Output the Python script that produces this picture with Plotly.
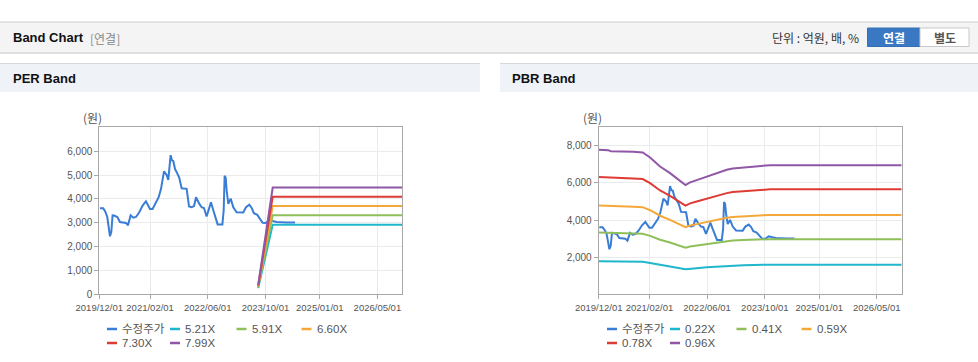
import plotly.graph_objects as go

W, H = 978, 362

# ---------------- data ----------------
price_dates = ["2019-12-06","2020-01-03","2020-01-20","2020-02-06","2020-02-14","2020-02-29","2020-03-11",
    "2020-03-22","2020-04-03","2020-05-01","2020-05-23","2020-06-20","2020-07-13","2020-07-30","2020-08-21",
    "2020-09-13","2020-10-05","2020-11-02","2020-11-30","2020-12-28","2021-01-31","2021-02-22","2021-03-23",
    "2021-04-14","2021-05-04","2021-05-29","2021-06-20","2021-07-04","2021-07-24","2021-08-04","2021-08-16",
    "2021-08-30","2021-09-18","2021-10-05","2021-10-25","2021-12-06","2021-12-26","2022-01-17","2022-02-06",
    "2022-02-23","2022-03-23","2022-04-11","2022-05-01","2022-05-23","2022-06-12","2022-06-29","2022-07-19",
    "2022-08-07","2022-08-24","2022-10-03","2022-10-14","2022-10-22","2022-10-31","2022-11-08","2022-11-22",
    "2022-12-12","2023-01-03","2023-01-31","2023-03-28","2023-04-20","2023-05-18","2023-06-07","2023-06-26",
    "2023-07-24","2023-08-16","2023-09-07","2023-10-05","2023-11-03","2023-12-01","2024-01-03","2024-03-28",
    "2024-06-06"]
price_values = [3610,3610,3470,3240,2960,2430,2610,3310,3300,3240,3030,3000,2990,2890,3310,3210,3240,3440,
    3720,3900,3580,3580,3860,4070,4420,5150,5010,4790,5830,5620,5580,5250,5070,4880,4440,4420,3680,3650,
    3700,4070,3790,3650,3620,3260,3580,3860,3510,3170,2930,2930,3510,4970,4880,4350,3790,4010,3650,3440,
    3430,3650,3760,3620,3400,3330,3170,3000,2990,3120,3070,3030,3010,3010]

per_band_dates = ["2023-08-01", "2023-12-01", "2026-11-27"]
per_names = ["5.21X", "5.91X", "6.60X", "7.30X", "7.99X"]
per_bands = [
    [260, 2918, 2918],
    [296, 3310, 3310],
    [330, 3696, 3696],
    [365, 4088, 4088],
    [400, 4474, 4474],
]

pbr_band_dates = ["2019-12-01","2020-02-20","2020-03-11","2020-08-21","2020-09-18","2020-12-06","2021-02-06",
    "2021-05-01","2021-07-24","2021-12-01","2022-01-09","2022-03-06","2022-05-29","2022-08-21","2022-11-14",
    "2023-01-03","2023-04-03","2023-06-26","2023-09-19","2023-11-14","2026-11-27"]
pbr_names = ["0.22X", "0.41X", "0.59X", "0.78X", "0.96X"]
pbr_bands = [
    [1784,1780,1767,1764,1759,1751,1690,1579,1497,1349,1382,1410,1456,1497,1538,1554,1567,1579,1587,1595,1595],
    [3325,3317,3294,3287,3279,3264,3149,2942,2789,2514,2575,2629,2713,2789,2866,2897,2920,2943,2958,2973,2973],
    [4784,4774,4740,4729,4718,4696,4531,4234,4014,3617,3706,3782,3904,4014,4124,4168,4201,4234,4256,4278,4278],
    [6325,6311,6267,6252,6238,6209,5990,5597,5306,4782,4899,5001,5161,5306,5452,5511,5554,5598,5627,5656,5656],
    [7785,7767,7713,7695,7677,7642,7373,6889,6531,5886,6030,6155,6352,6531,6710,6782,6836,6890,6925,6961,6961],
]

x_tick_vals = ["2019-12-01","2021-02-01","2022-06-01","2023-10-01","2025-01-01","2026-05-01"]
x_tick_text = ["2019/12/01","2021/02/01","2022/06/01","2023/10/01","2025/01/01","2026/05/01"]
x_range = ["2019-12-01", "2026-11-27"]
per_y_ticks = [0, 1000, 2000, 3000, 4000, 5000, 6000]
pbr_y_ticks = [2000, 4000, 6000, 8000]

price_name = "수정주가"

# ---------------- styles / layout ----------------
price_color = "#3a7dd6"
band_colors = ["#1fb7cc", "#8fbf59", "#f5a83a", "#de3b35", "#8f57a6"]

FONT = "Liberation Sans, Noto Sans CJK KR, sans-serif"
KFONT = "Noto Sans CJK KR, Liberation Sans, sans-serif"

def px(x):
    return x / W

def py(y):
    return 1 - y / H

fig = go.Figure()

fig.add_trace(go.Scatter(x=price_dates, y=price_values, name=price_name, mode="lines",
                         line=dict(color=price_color, width=2), xaxis="x", yaxis="y", showlegend=False))
for i, (n, v) in enumerate(zip(per_names, per_bands)):
    fig.add_trace(go.Scatter(x=per_band_dates, y=v, name=n, mode="lines",
                             line=dict(color=band_colors[i], width=2), xaxis="x", yaxis="y", showlegend=False))

fig.add_trace(go.Scatter(x=price_dates, y=price_values, name=price_name, mode="lines",
                         line=dict(color=price_color, width=2), xaxis="x2", yaxis="y2", showlegend=False))
for i, (n, v) in enumerate(zip(pbr_names, pbr_bands)):
    fig.add_trace(go.Scatter(x=pbr_band_dates, y=v, name=n, mode="lines",
                             line=dict(color=band_colors[i], width=2), xaxis="x2", yaxis="y2", showlegend=False))

axis_common = dict(showline=True, linecolor="#a8a8a8", linewidth=1, mirror=True, automargin=False,
                   showgrid=True, gridcolor="#ebebeb", gridwidth=1, zeroline=False,
                   ticks="outside", ticklen=4, tickcolor="#a8a8a8", tickangle=0)
xfont = dict(family=FONT, size=9.5, color="#555555")
yfont = dict(family=FONT, size=10, color="#555555")

xdom_per = [px(99.3), px(402.3)]
xdom_pbr = [px(598.7), px(901.7)]
ydom = [py(294.3), py(127.3)]

fig.update_layout(
    template="none",
    width=W, height=H, margin=dict(l=0, r=0, t=0, b=0, autoexpand=False),
    paper_bgcolor="white", plot_bgcolor="white", showlegend=False,
    xaxis=dict(domain=xdom_per, type="date", range=x_range, tickvals=x_tick_vals, ticktext=x_tick_text,
               anchor="y", tickfont=xfont, **axis_common),
    yaxis=dict(domain=ydom, range=[0, 7000], tickvals=per_y_ticks, tickformat=",d", anchor="x",
               tickfont=yfont, **axis_common),
    xaxis2=dict(domain=xdom_pbr, type="date", range=x_range, tickvals=x_tick_vals, ticktext=x_tick_text,
                anchor="y2", tickfont=xfont, **axis_common),
    yaxis2=dict(domain=ydom, range=[0, 9000], tickvals=pbr_y_ticks, tickformat=",d", anchor="x2",
                tickfont=yfont, **axis_common),
)

shapes = []
ann = []

def text(x, y, t, size=12, color="#333", bold=False, xanchor="left", family=FONT):
    ann.append(dict(xref="paper", yref="paper", x=px(x), y=py(y), text=("<b>%s</b>" % t) if bold else t,
                    showarrow=False, xanchor=xanchor, yanchor="middle",
                    font=dict(family=family, size=size, color=color)))

# top header bar
shapes.append(dict(type="rect", xref="paper", yref="paper", x0=0, x1=1, y0=py(53), y1=py(22),
                   fillcolor="#f4f4f4", line=dict(width=0), layer="below"))
shapes.append(dict(type="line", xref="paper", yref="paper", x0=0, x1=1, y0=py(22), y1=py(22),
                   line=dict(color="#cccccc", width=1)))
shapes.append(dict(type="line", xref="paper", yref="paper", x0=0, x1=1, y0=py(53), y1=py(53),
                   line=dict(color="#d6d6d6", width=1.5)))
# panel headers
for (a, b) in [(0, 480), (500, 978)]:
    shapes.append(dict(type="rect", xref="paper", yref="paper", x0=px(a), x1=px(b), y0=py(92), y1=py(63),
                       fillcolor="#eff2f7", line=dict(width=0), layer="below"))
    shapes.append(dict(type="line", xref="paper", yref="paper", x0=px(a), x1=px(b), y0=py(63.5), y1=py(63.5),
                       line=dict(color="#d5d8dd", width=1)))
# buttons
shapes.append(dict(type="rect", xref="paper", yref="paper", x0=px(867.5), x1=px(920), y0=py(46.5), y1=py(28),
                   fillcolor="#3a78c3", line=dict(color="#3470b5", width=1)))
shapes.append(dict(type="rect", xref="paper", yref="paper", x0=px(920), x1=px(969), y0=py(46.5), y1=py(28),
                   fillcolor="#ffffff", line=dict(color="#c8c8c8", width=1)))

text(11, 38, "Band Chart", 13, "#111111", True)
text(88, 38.5, "[연결]", 12, "#8a8a8a", False, family=KFONT)
text(861, 37.5, "단위 : 억원, 배, %", 12, "#333333", False, "right", family=KFONT)
text(894, 37.5, "연결", 12, "#ffffff", True, "center", family=KFONT)
text(944.5, 37.5, "별도", 12, "#555555", True, "center", family=KFONT)
text(11, 78, "PER Band", 13, "#111111", True)
text(510, 78, "PBR Band", 13, "#111111", True)
text(81, 117, "(원)", 12, "#555555", False, family=KFONT)
text(581, 117, "(원)", 12, "#555555", False, family=KFONT)

# legends (key line + label), laid out in two rows under each chart
legend_cols = [107, 170, 236.5, 301.5]
legend_rows = [329, 343]
for offset, names in [(0, per_names), (500, pbr_names)]:
    labels = [price_name] + names
    colors = [price_color] + band_colors
    for k, (lab, col) in enumerate(zip(labels, colors)):
        r, c = divmod(k, 4)
        x0 = offset + legend_cols[c]
        yy = legend_rows[r]
        shapes.append(dict(type="line", xref="paper", yref="paper", x0=px(x0), x1=px(x0 + 10),
                           y0=py(yy), y1=py(yy), line=dict(color=col, width=2.5)))
        text(x0 + 13, yy, lab, 11.5, "#555555")

fig.update_layout(shapes=shapes, annotations=ann)
fig.write_html("out.html", config={"displayModeBar": False},
               post_script="document.body.style.margin='0';document.body.style.overflow='hidden';")
